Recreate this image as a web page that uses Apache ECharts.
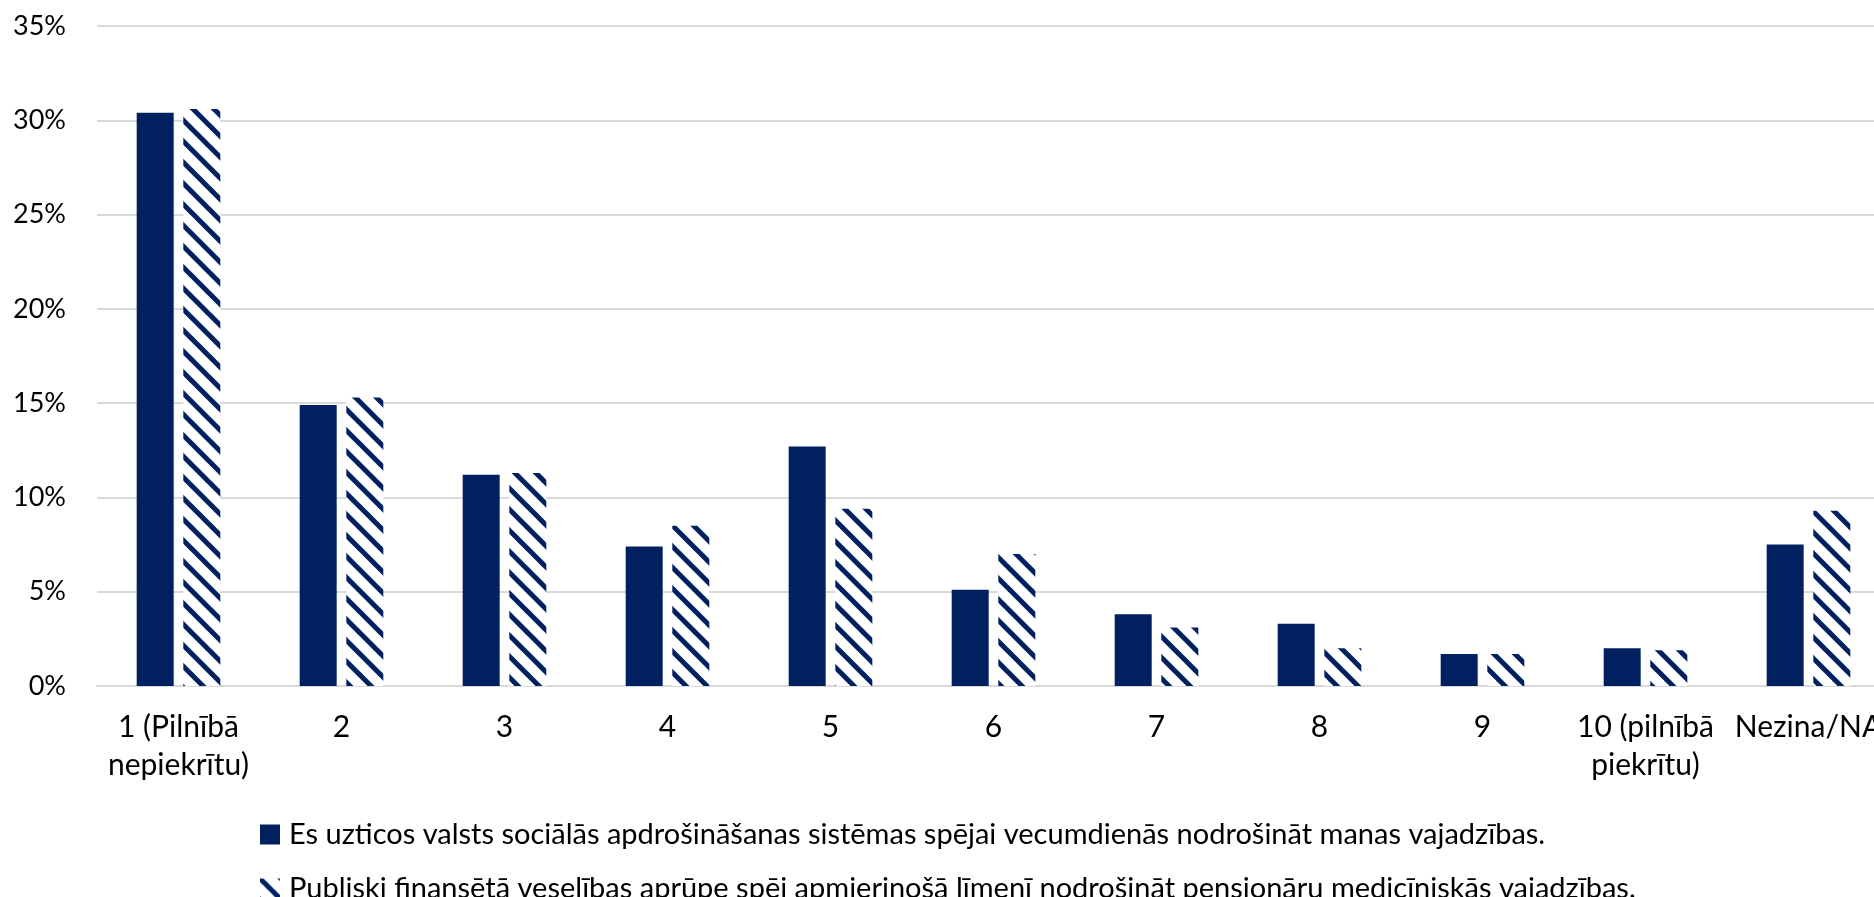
<!DOCTYPE html>
<html>
<head>
<meta charset="utf-8">
<script src="https://cdn.jsdelivr.net/npm/echarts@6/dist/echarts.min.js"></script>
<style>
html,body{margin:0;padding:0;background:#fff;}
#chart{width:1874px;height:897px;}
</style>
</head>
<body>
<div id="chart"></div>
<script>
var categories = ['1 (Pilnībā\nnepiekrītu)', '2', '3', '4', '5', '6', '7', '8', '9', '10 (pilnībā\npiekrītu)', 'Nezina/NA'];
var seriesNames = [
  'Es uzticos valsts sociālās apdrošināšanas sistēmas spējai vecumdienās nodrošināt manas vajadzības.',
  'Publiski finansētā veselības aprūpe spēj apmierinošā līmenī nodrošināt pensionāru medicīniskās vajadzības.'
];
var pensionValues = [30.4, 14.9, 11.2, 7.4, 12.7, 5.1, 3.8, 3.3, 1.7, 2.0, 7.5];
var healthValues  = [30.6, 15.3, 11.3, 8.5, 9.4, 7.0, 3.1, 2.0, 1.7, 1.9, 9.3];
var yTicks = [0, 5, 10, 15, 20, 25, 30, 35];

var NAVY = '#002060';
var FONT = 'Lato';

// hatch pattern "\" diagonal stripes
var P = 21;
var tile = document.createElement('canvas');
tile.width = P; tile.height = P;
var tc = tile.getContext('2d');
tc.fillStyle = '#ffffff';
tc.fillRect(0, 0, P, P);
tc.strokeStyle = NAVY;
tc.lineWidth = 5;
[-P, 0, P].forEach(function (c) {
  tc.beginPath();
  tc.moveTo(-5, c - 5);
  tc.lineTo(P + 5, c + P + 5);
  tc.stroke();
});

function legendAt(name, top) {
  return {
    orient: 'vertical',
    left: 255,
    top: top,
    itemWidth: 20,
    itemHeight: 20,
    itemGap: 0,
    icon: 'rect',
    textStyle: {fontFamily: FONT, fontSize: 29, color: '#000', padding: [0, 0, 0, 4]},
    data: [name]
  };
}

var chart = echarts.init(document.getElementById('chart'), null, {renderer: 'canvas'});
chart.setOption({
  animation: false,
  backgroundColor: '#ffffff',
  textStyle: {fontFamily: FONT},
  grid: {left: 97, top: 26, width: 1793, height: 660, containLabel: false, outerBoundsMode: 'none'},
  legend: [legendAt(seriesNames[0], 815), legendAt(seriesNames[1], 869)],
  xAxis: {
    type: 'category',
    data: categories,
    axisLine: {show: true, lineStyle: {color: '#d9d9d9', width: 2}},
    axisTick: {show: false},
    axisLabel: {interval: 0, margin: 22, fontFamily: FONT, fontSize: 30, lineHeight: 38, color: '#000', align: 'center'}
  },
  yAxis: {
    type: 'value',
    min: yTicks[0],
    max: yTicks[yTicks.length - 1],
    interval: 5,
    axisLine: {show: false},
    axisTick: {show: false},
    splitLine: {lineStyle: {color: '#d9d9d9', width: 2}},
    axisLabel: {margin: 31, fontFamily: FONT, fontSize: 27, color: '#000', formatter: '{value}%'}
  },
  series: [
    {
      name: seriesNames[0],
      type: 'bar',
      data: pensionValues,
      barWidth: 37,
      barGap: '26%',
      itemStyle: {color: NAVY}
    },
    {
      name: seriesNames[1],
      type: 'bar',
      data: healthValues,
      barWidth: 37,
      barGap: '26%',
      itemStyle: {color: {image: tile, repeat: 'repeat'}}
    }
  ]
});
</script>
</body>
</html>
